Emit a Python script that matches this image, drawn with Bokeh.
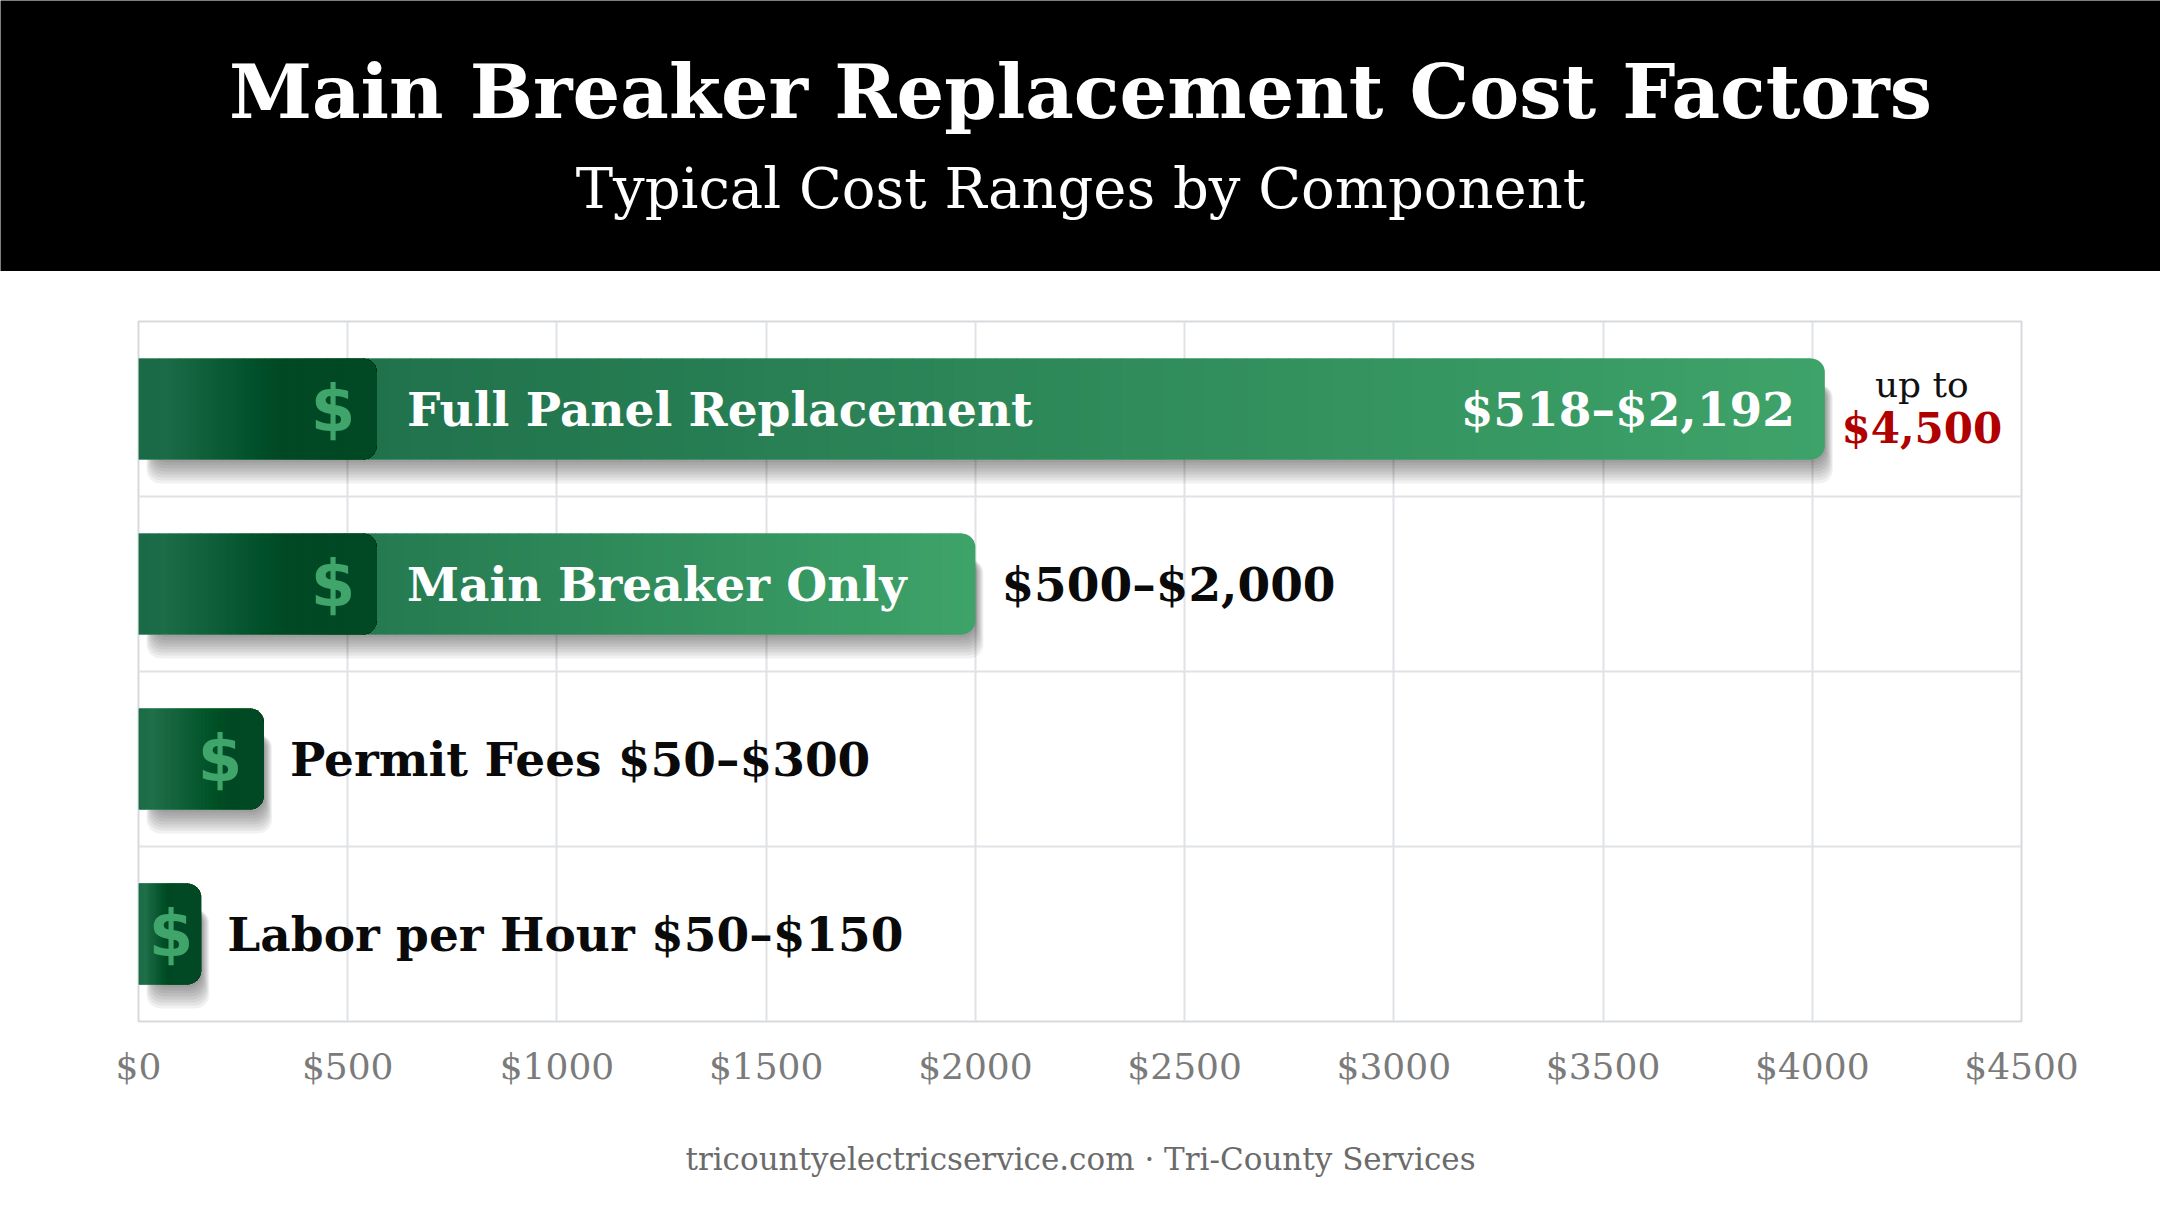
import numpy as np
from bokeh.plotting import figure
from bokeh.layouts import column
from bokeh.models import Range1d, FixedTicker, Grid
from bokeh.core.properties import value
from bokeh.embed import file_html
from bokeh.resources import INLINE

# chart data
title_text = "Main Breaker Replacement Cost Factors"
subtitle_text = "Typical Cost Ranges by Component"
footer_text = "tricountyelectricservice.com \u00b7 Tri-County Services"

components = ["Full Panel Replacement", "Main Breaker Only", "Permit Fees", "Labor per Hour"]
cost_ranges = ["$518\u2013$2,192", "$500\u2013$2,000", "$50\u2013$300", "$50\u2013$150"]
bar_ends = [4030, 2000, 300, 150]
panel_max = 4500
tick_values = [0, 500, 1000, 1500, 2000, 2500, 3000, 3500, 4000, 4500]
tick_labels = ["$0", "$500", "$1000", "$1500", "$2000", "$2500", "$3000", "$3500", "$4000", "$4500"]

SERIF = "DejaVu Serif"
W = 2160
HEAD_H, MAIN_H, FOOT_H = 271, 850, 85
ML, MR, MT, MB = 138, 139, 50, 100

# ---------- header ----------
head = figure(width=W, height=HEAD_H, x_range=Range1d(0, W), y_range=Range1d(HEAD_H, 0),
              output_backend="svg", toolbar_location=None, x_axis_type=None, y_axis_type=None,
              min_border=0, background_fill_color="black", border_fill_color="black",
              outline_line_color=None)
head.frame_align = False
head.text(x=[1080], y=[91], text=[title_text], text_font=value(SERIF), text_font_size="75px",
          text_font_style="bold", text_color="white", text_align="center", text_baseline="middle")
head.text(x=[1080], y=[188], text=[subtitle_text], text_font=value(SERIF), text_font_size="56px",
          text_color="white", text_align="center", text_baseline="middle")

# ---------- main chart ----------
p = figure(width=W, height=MAIN_H, x_range=Range1d(0, 4500), y_range=Range1d(-0.5, 3.5),
           output_backend="svg", toolbar_location=None, min_border_left=ML, min_border_right=MR,
           min_border_top=MT, min_border_bottom=MB, background_fill_color="white",
           border_fill_color="white")
p.frame_align = False
p.yaxis.visible = False
p.ygrid.visible = False
p.add_layout(Grid(dimension=1, ticker=FixedTicker(ticks=[-0.5, 0.5, 1.5, 2.5, 3.5]),
                  grid_line_color="#dfe2e6", grid_line_width=2))
p.xaxis.ticker = FixedTicker(ticks=tick_values)
p.xaxis.major_label_overrides = dict(zip(tick_values, tick_labels))
p.xgrid.ticker = FixedTicker(ticks=tick_values)
p.xgrid.grid_line_color = "#dfe2e6"
p.xgrid.grid_line_width = 2
p.xaxis.axis_line_color = None
p.xaxis.major_tick_line_color = None
p.xaxis.minor_tick_line_color = None
p.xaxis.major_label_text_font = SERIF
p.xaxis.major_label_text_font_size = "36px"
p.xaxis.major_label_text_color = "#7b7b7b"
p.xaxis.major_label_standoff = 18
p.outline_line_color = "#d6d9dd"
p.outline_line_width = 2

frame_w = W - ML - MR
ux = 4500 / frame_w           # data units per pixel, x
uy = 4 / (MAIN_H - MT - MB)   # data units per pixel, y
bar_h = 101 * uy
rad = 14
rows = [3, 2, 1, 0]

c0 = np.array([27, 106, 71])
c1 = np.array([62, 163, 105])
dark = "#0b3f22"

def hexc(c):
    return "#%02x%02x%02x" % tuple(int(round(v)) for v in c)

# soft drop shadows
for d in (3, 6, 9, 12, 15, 18, 21, 24):
    p.quad(left=[(16 - d / 3) * ux] * 4, right=[v + d / 3 * ux for v in bar_ends],
           top=[y + bar_h / 2 - 26 * uy for y in rows],
           bottom=[y - bar_h / 2 - d * uy for y in rows],
           fill_color="black", fill_alpha=0.055, line_color=None, border_radius=rad)

# base bars (rounded right end)
p.quad(left=[0] * 4, right=bar_ends, top=[y + bar_h / 2 for y in rows],
       bottom=[y - bar_h / 2 for y in rows], fill_color=hexc(c1), line_color=None,
       border_radius=(0, rad, rad, 0))

# left-to-right gradient, opaque slices
L, R, T, B, C = [], [], [], [], []
for v, y in zip(bar_ends, rows):
    edges = np.linspace(0, v - rad * ux, 81)
    for a, b in zip(edges[:-1], edges[1:]):
        t = (a + b) / 2 / v
        L.append(a); R.append(b + 0.8 * ux)
        T.append(y + bar_h / 2); B.append(y - bar_h / 2)
        C.append(hexc(c0 + (c1 - c0) * t))
p.quad(left=L, right=R, top=T, bottom=B, fill_color=C, line_color=None)

# dark icon block: stacked translucent layers that all end at the block edge
icon_ends = [min(v, 570) for v in bar_ends]
n_layers = 60
L, R, T, B = [], [], [], []
for e, y in zip(icon_ends, rows):
    starts = np.linspace(0.12 * e, e - 2 * rad * ux, n_layers)
    for s in starts:
        L.append(s); R.append(e)
        T.append(y + bar_h / 2); B.append(y - bar_h / 2)
p.quad(left=L, right=R, top=T, bottom=B, fill_color=dark, fill_alpha=0.027, line_color=None,
       border_radius=(0, rad, rad, 0))
dollar_x = [e - min(44, e / ux * 0.48) * ux for e in icon_ends]
p.text(x=dollar_x, y=rows, text=["$"] * 4, text_font=value("DejaVu Sans"), text_font_size="64px",
       text_font_style="bold", text_color="#40a56a", text_align="center", text_baseline="middle")

# labels
for name, rng, v, e, y in zip(components, cost_ranges, bar_ends, icon_ends, rows):
    common = dict(text_font=value(SERIF), text_font_size="47px", text_font_style="bold",
                  text_baseline="middle")
    if v >= 1000:
        p.text(x=[e + 30 * ux], y=[y], text=[name], text_color="white", text_align="left", **common)
        if v >= 3000:
            p.text(x=[v - 30 * ux], y=[y], text=[rng], text_color="white", text_align="right", **common)
            p.text(x=[v + 97 * ux], y=[y + 25 * uy], text=["up to"], text_font=value(SERIF),
                   text_font_size="36px", text_color="#111111", text_align="center",
                   text_baseline="middle")
            p.text(x=[v + 97 * ux], y=[y - 19 * uy], text=["$%s" % format(panel_max, ",")],
                   text_font=value(SERIF), text_font_size="42px", text_font_style="bold",
                   text_color="#b00000", text_align="center", text_baseline="middle")
        else:
            p.text(x=[v + 26 * ux], y=[y], text=[rng], text_color="#0a0a0a", text_align="left", **common)
    else:
        p.text(x=[v + 26 * ux], y=[y], text=[name + " " + rng], text_color="#0a0a0a",
               text_align="left", **common)

# ---------- footer ----------
top_foot = HEAD_H + MAIN_H
foot = figure(width=W, height=FOOT_H, x_range=Range1d(0, W), y_range=Range1d(top_foot + FOOT_H, top_foot),
              output_backend="svg", toolbar_location=None, x_axis_type=None, y_axis_type=None,
              min_border=0, outline_line_color=None)
foot.frame_align = False
foot.text(x=[1080], y=[1158], text=[footer_text], text_font=value(SERIF), text_font_size="31px",
          text_color="#6b6b6b", text_align="center", text_baseline="middle")

layout = column(head, p, foot)
open("out.html", "w").write(file_html(layout, INLINE))
